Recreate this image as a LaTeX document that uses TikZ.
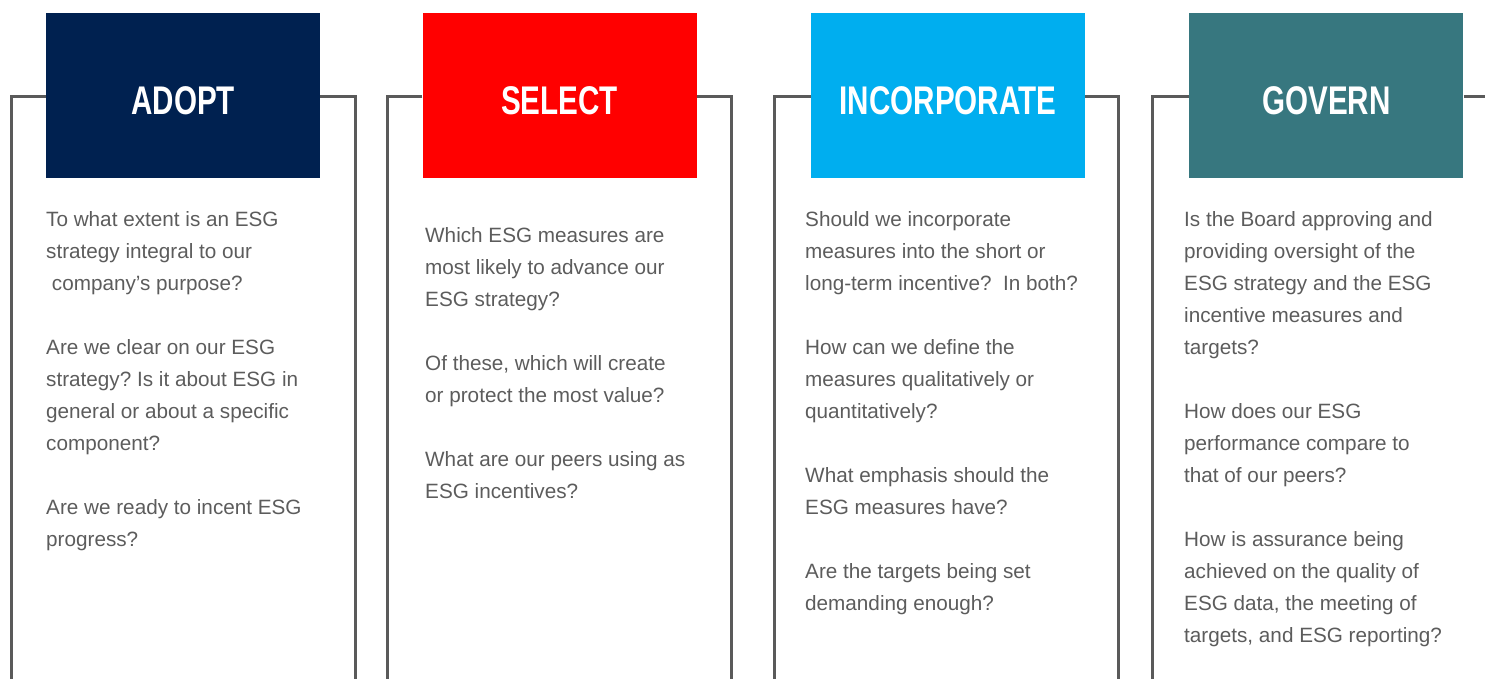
\documentclass[tikz,border=0pt]{standalone}
\usepackage{xcolor}
\usepackage{fontspec}
\setmainfont{Liberation Sans}
\newfontfamily\headfont[FakeStretch=0.74]{Liberation Sans Bold}
\usepackage{tikz}
\usetikzlibrary{positioning}

\definecolor{adoptblue}{HTML}{002150}
\definecolor{selectred}{HTML}{FF0000}
\definecolor{incorpblue}{HTML}{00AEEF}
\definecolor{governteal}{HTML}{37777F}
\definecolor{framegray}{HTML}{5A5A5A}
\definecolor{textgray}{HTML}{5C5C5C}

\frenchspacing

\begin{document}
\begin{tikzpicture}[x=1pt, y=-1pt,
        header/.style={rectangle, minimum width=274pt, minimum height=165pt, inner sep=0pt, text=white, font=\headfont\fontsize{40}{40}\selectfont, text height=40pt, text depth=3pt},
        question/.style={anchor=north west, align=left, inner sep=0pt, text=textgray, font=\fontsize{20.7}{32}\selectfont},
        frame/.style={draw=framegray, line width=3pt}
    ]
        \useasboundingbox (0,0) rectangle (1485,679);

        % Headers
        \node[header, fill=adoptblue, anchor=north west] (adopt) at (46,13) {ADOPT};
        \node[header, fill=selectred, right=102pt of adopt] (select) {SELECT};
        \node[header, fill=incorpblue, right=114pt of select] (incorporate) {INCORPORATE};
        \node[header, fill=governteal, right=104pt of incorporate] (govern) {GOVERN};

        % Frame corners
        \coordinate (adoptL) at (11,97);
        \coordinate (adoptR) at (355,97);
        \coordinate (selectL) at (387,97);
        \coordinate (selectR) at (731,97);
        \coordinate (incorpL) at (774,97);
        \coordinate (incorpR) at (1118,97);
        \coordinate (governL) at (1152,97);
        \coordinate (governR) at (1486,97);
        \coordinate (bottom) at (0,680);

        % Frames
        \draw[frame] (adopt.west |- adoptL) -- (adoptL) -- (adoptL |- bottom);
        \draw[frame] (adopt.east |- adoptR) -- (adoptR) -- (adoptR |- bottom);
        \draw[frame] (select.west |- selectL) -- (selectL) -- (selectL |- bottom);
        \draw[frame] (select.east |- selectR) -- (selectR) -- (selectR |- bottom);
        \draw[frame] (incorporate.west |- incorpL) -- (incorpL) -- (incorpL |- bottom);
        \draw[frame] (incorporate.east |- incorpR) -- (incorpR) -- (incorpR |- bottom);
        \draw[frame] (govern.west |- governL) -- (governL) -- (governL |- bottom);
        \draw[frame] (govern.east |- governR) -- (governR);

        % Questions
        \node[question] (adoptq) at (46,211) {To what extent is an ESG\\
            strategy integral to our\\
            \ company’s purpose?\\[32pt]
            Are we clear on our ESG\\
            strategy? Is it about ESG in\\
            general or about a specific\\
            component?\\[32pt]
            Are we ready to incent ESG\\
            progress?};
        \node[question] (selectq) at (425,227) {Which ESG measures are\\
            most likely to advance our\\
            ESG strategy?\\[32pt]
            Of these, which will create\\
            or protect the most value?\\[32pt]
            What are our peers using as\\
            ESG incentives?};
        \node[question] (incorpq) at (805,211) {Should we incorporate\\
            measures into the short or\\
            long-term incentive?\ \ In both?\\[32pt]
            How can we define the\\
            measures qualitatively or\\
            quantitatively?\\[32pt]
            What emphasis should the\\
            ESG measures have?\\[32pt]
            Are the targets being set\\
            demanding enough?};
        \node[question] (governq) at (1184,211) {Is the Board approving and\\
            providing oversight of the\\
            ESG strategy and the ESG\\
            incentive measures and\\
            targets?\\[32pt]
            How does our ESG\\
            performance compare to\\
            that of our peers?\\[32pt]
            How is assurance being\\
            achieved on the quality of\\
            ESG data, the meeting of\\
            targets, and ESG reporting?};

    \end{tikzpicture}
\end{document}
